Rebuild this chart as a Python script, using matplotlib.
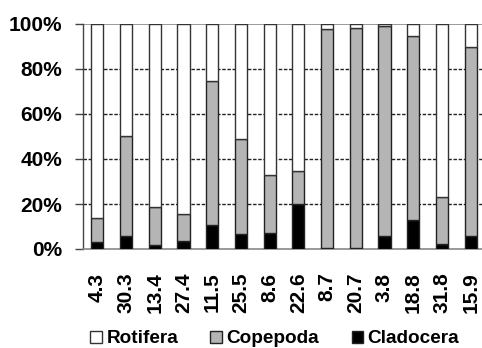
import numpy as np
import matplotlib.pyplot as plt

plt.rcParams['font.family'] = ['Liberation Sans', 'DejaVu Sans']
plt.rcParams['font.weight'] = 'bold'

sites = ["4.3", "30.3", "13.4", "27.4", "11.5", "25.5", "8.6",
         "22.6", "8.7", "20.7", "3.8", "18.8", "31.8", "15.9"]
cladocera = [3.1, 5.8, 1.9, 3.4, 10.5, 6.5, 7.0, 19.8, 0.6, 0.4, 5.6, 13.0, 2.4, 5.9]
copepoda = [10.7, 44.5, 16.6, 12.1, 64.2, 42.5, 25.7, 14.8, 97.3, 97.8, 93.5, 81.7, 20.7, 83.7]
rotifera = [86.2, 49.7, 81.5, 84.5, 25.3, 51.0, 67.3, 65.4, 2.1, 1.8, 0.9, 5.3, 76.9, 10.4]

fig = plt.figure(figsize=(4.82, 3.48), dpi=100)
ax = fig.add_axes([83 / 482, 99 / 348, 402 / 482, 225 / 348])

x = np.arange(len(sites))
w = 0.42
clad = np.array(cladocera)
cope = np.array(copepoda)
roti = np.array(rotifera)

ax.bar(x, clad, w, color='black', edgecolor='#222222', linewidth=1, zorder=3, label='Cladocera')
ax.bar(x, cope, w, bottom=clad, color='#b5b5b5', edgecolor='#222222', linewidth=1, zorder=3, label='Copepoda')
ax.bar(x, roti, w, bottom=clad + cope, color='white', edgecolor='#333333', linewidth=1, zorder=3, label='Rotifera')

for yv in [20, 40, 60, 80]:
    ax.axhline(yv, color='#222222', linestyle=(0, (2.5, 1.2)), linewidth=1, zorder=1)
ax.axhline(100, color='#888888', linewidth=1.2, zorder=1)

ax.set_xlim(-0.5, 13.5)
ax.set_ylim(0, 100)
ax.set_yticks([0, 20, 40, 60, 80, 100])
ax.set_yticklabels([f"{v}%" for v in [0, 20, 40, 60, 80, 100]], fontsize=15, fontweight='bold')
ax.set_xticks(x)
ax.set_xticklabels(sites, rotation=90, fontsize=15, fontweight='bold')
ax.tick_params(axis='x', length=0, pad=17)
ax.tick_params(axis='y', length=6, width=1, color='#444444', pad=9)

for s in ['top', 'right']:
    ax.spines[s].set_visible(False)
ax.spines['left'].set_color('#444444')
ax.spines['bottom'].set_color('#888888')
ax.spines['left'].set_linewidth(1)
ax.spines['bottom'].set_linewidth(1.2)

h, l = ax.get_legend_handles_labels()
fig.legend(h[::-1], l[::-1], loc='center', bbox_to_anchor=(0.57, 0.026), ncol=3,
           frameon=False, handlelength=0.6, handleheight=0.6,
           handletextpad=0.25, columnspacing=1.7, borderpad=0,
           prop={'weight': 'bold', 'size': 13.7})

fig.savefig('out.png', dpi=100)
